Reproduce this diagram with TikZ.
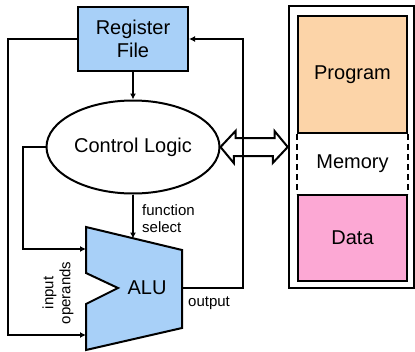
\documentclass[tikz,border=0pt]{standalone}
\usepackage{fontspec}
\setmainfont{Liberation Sans}
\usetikzlibrary{shapes.geometric,arrows.meta}

\definecolor{regblue}{HTML}{A8D0F8}
\definecolor{progpeach}{HTML}{FCD4A8}
\definecolor{datapink}{HTML}{FCA8D4}

\tikzset{
  wire/.style={line width=2pt},
  arr/.style={wire,-{Latex[length=6pt,width=6pt]}},
  blk/.style={draw,line width=2pt,inner sep=0pt,align=center,font=\fontsize{20}{23}\selectfont},
  small/.style={font=\fontsize{15}{17}\selectfont,align=left,inner sep=0pt}
}

\begin{document}
\begin{tikzpicture}[x=1pt,y=-1pt]
\useasboundingbox (0,0) rectangle (415,351);

% processor side
\path (133,39) node (reg) [blk, fill=regblue, minimum width=110pt, minimum height=64pt] {Register\\File};
\path (133,147) node (ctrl) [blk, ellipse, minimum width=173pt, minimum height=93pt] {Control Logic};

% ALU outline with notch
\coordinate (alutl) at (86,227);
\coordinate (alutr) at (182,250);
\coordinate (alubr) at (182,328);
\coordinate (alubl) at (86,350);
\path [draw, wire, fill=regblue, line join=miter]
  (alutl) -- (alutr) -- (alubr) -- (alubl) -- (86,304) -- (118,288) -- (86,273) -- cycle;
\path (147,288) node (alu) [font=\fontsize{20}{23}\selectfont, inner sep=0pt] {ALU};

\coordinate (aluin1) at (86,249);
\coordinate (aluin2) at (86,335);
\coordinate (alufn) at (133,238.5);
\coordinate (aluout) at (182,288);

% memory
\path (351.5,147) node (mem) [draw, line width=2.5pt, minimum width=125pt, minimum height=282pt] {};
\path (352.5,74.5) node (prog) [blk, fill=progpeach, minimum width=109pt, minimum height=117pt] {Program};
\path (352.5,238) node (data) [blk, fill=datapink, minimum width=109pt, minimum height=86pt] {Data};
\path (352.5,164) node (memlbl) [font=\fontsize{20}{23}\selectfont] {Memory};
\draw [wire, dashed, dash pattern=on 6pt off 4pt] (prog.south west) -- (data.north west);
\draw [wire, dashed, dash pattern=on 6pt off 4pt] (prog.south east) -- (data.north east);

% bus between control and memory
\draw [wire, line join=miter] (ctrl.east) -- ++(15,-16) -- ++(0,7) -- ++(39,0) -- ++(0,-7)
  -- (mem.west) -- ++(-15,16) -- ++(0,-7) -- ++(-39,0) -- ++(0,7) -- cycle;

% datapath
\draw [arr] (reg) -- (ctrl);
\draw [arr] (ctrl) -- (alufn);
\draw [arr] (reg.west) -- (8,39) |- (aluin2);
\draw [arr] (ctrl.west) -- (23,147) |- (aluin1);
\draw [arr] (aluout) -- (243,288) |- (reg.east);

% labels
\path (142,219) node (fnsel) [small, anchor=west] {function\\select};
\path (188,303) node (outlbl) [small, anchor=west] {output};
\path (58,293) node (inlbl) [small, rotate=90, align=center] {input\\operands};

\end{tikzpicture}
\end{document}
